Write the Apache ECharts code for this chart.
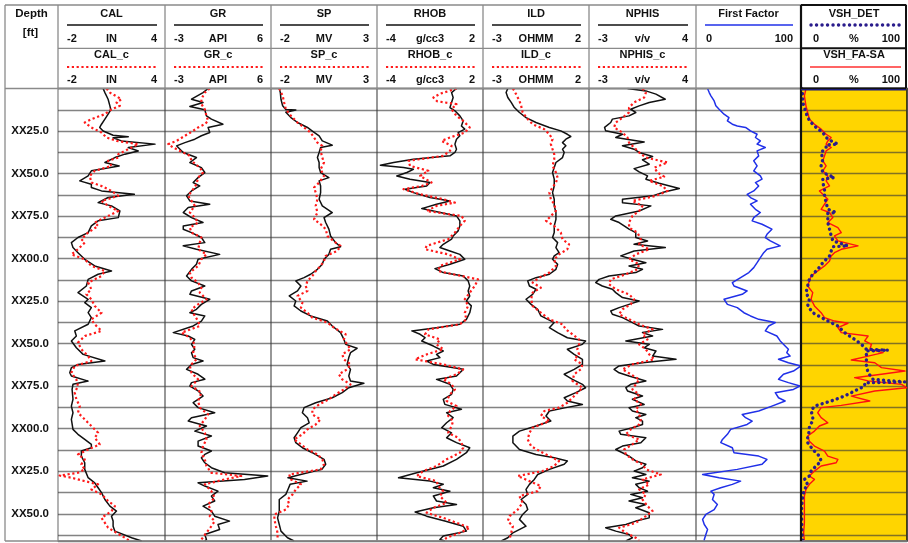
<!DOCTYPE html>
<html>
<head>
<meta charset="utf-8">
<script src="https://cdn.jsdelivr.net/npm/echarts@6/dist/echarts.min.js"></script>
<style>
html,body{margin:0;padding:0;background:#fff;}
#chart{width:908px;height:543px;}
</style>
</head>
<body>
<div id="chart"></div>
<script>
// ---- track headings and scales ----
const topNames    = ['CAL', 'GR', 'SP', 'RHOB', 'ILD', 'NPHIS', 'First Factor', 'VSH_DET'];
const bottomNames = ['CAL_c', 'GR_c', 'SP_c', 'RHOB_c', 'ILD_c', 'NPHIS_c', '', 'VSH_FA-SA'];
const units       = ['IN', 'API', 'MV', 'g/cc3', 'OHMM', 'v/v', '', '%'];
const scaleMin    = [-2, -3, -2, -4, -3, -3, 0, 0];
const scaleMax    = [4, 6, 3, 2, 2, 4, 100, 100];
const depthMin = 0, depthMax = 266, depthStep = 12.5, depthLabelStep = 25;

// ---- log curves, each point is [depth, value] ----
const CAL = [[0,0.53],[2.4,0.63],[6.3,0.81],[10.2,0.91],[12.5,0.96],[15.1,0.81],[18,0.63],[21,0.44],[22.9,0.34],[25,0.53],[27.5,1.09],[28.3,1.94],[29,1.09],[30.8,1.56],[32.7,3.44],[34.7,1.94],[36.7,2.5],[38.6,1.75],[40.6,1.19],[43.5,0.63],[45.5,1.43],[48.4,-0.13],[51.4,-0.31],[54.3,-0.78],[56.3,-0.13],[58.2,-0.13],[60.2,0.44],[62.2,2.28],[64.1,0.81],[67.1,0.25],[69,1.0],[72,1.47],[75.9,1.38],[77.8,0.25],[80.8,-0.13],[84.7,-0.31],[87.6,-0.88],[90.6,-1.25],[93.5,-1.16],[96.5,-0.88],[100.4,-0.5],[104.3,0.06],[107.3,1.0],[109.2,0.25],[112.2,-0.31],[116.1,-0.41],[120,-0.88],[123.9,-0.31],[125.9,-0.5],[128.8,-0.13],[131.8,-0.31],[134.7,-0.13],[138.6,-0.31],[142.5,-1.06],[145.5,-0.97],[148.4,-1.25],[152.4,-0.97],[156.3,-0.59],[160.2,0.63],[162.2,-0.88],[164.1,-1.25],[167.1,-1.34],[169,-1.25],[172,-0.31],[173.9,-1.16],[176.9,-1.21],[182.7,-1.16],[186.7,-1.25],[190.6,-1.16],[194.5,-1.25],[200.4,-1.16],[203.3,-0.88],[206.3,-0.5],[209.2,-0.13],[211.2,-0.13],[213.1,-0.69],[216.1,-0.69],[220,-0.5],[223.9,-0.5],[228.8,-0.31],[231.8,0.06],[234.7,0.25],[237.6,0.44],[241.6,0.63],[245.5,0.91],[248.4,1.28],[251.4,1.0],[254.3,1.09],[257.3,1.09],[260.2,1.19],[264.1,2.13],[266,2.69]];
const CAL_c = [[0,0.72],[2.4,0.91],[6.3,1.56],[8.2,1.28],[10.2,1.47],[12.2,1.0],[15.1,0.63],[18,-0.13],[20,-0.5],[22.9,-0.13],[25.9,0.44],[28.8,0.72],[30.8,1.28],[32.7,2.5],[33.7,2.31],[35.7,1.94],[38.6,1.38],[40.6,1.38],[42.5,0.81],[45.5,1.0],[48.4,0.06],[51.4,-0.22],[55.3,-0.13],[57.3,0.44],[60.2,1.0],[63.1,1.38],[66.1,0.44],[69,0.81],[72,1.38],[75.9,0.63],[78.8,0.06],[80.8,0.25],[84.7,-0.31],[88.6,-0.69],[90.6,-0.5],[94.5,-0.88],[97.5,-1.25],[100.4,-0.5],[104.3,-0.13],[107.3,0.63],[110.2,0.44],[114.1,-0.31],[118,-0.13],[121,-0.41],[123.9,-0.13],[127.8,0.06],[131.8,0.44],[135.7,-0.13],[138.6,0.06],[142.5,0.44],[145.5,-0.5],[149.4,-0.88],[153.3,-0.69],[157.3,-0.31],[160.2,-0.13],[163.1,-1.06],[167.1,-1.25],[171,-0.97],[174.9,-0.88],[178.8,-1.06],[182.7,-0.97],[186.7,-0.78],[190.6,-0.88],[194.5,-0.5],[198.4,-0.13],[202.4,0.25],[205.3,0.06],[209.2,0.34],[212.2,-0.31],[215.1,-0.88],[218,-0.5],[221,-0.69],[223.9,-0.5],[225.9,-0.88],[227.5,-1.91],[228.8,-1.25],[230.8,-0.5],[232.7,0.25],[235.7,-0.13],[238.6,0.44],[242.5,0.81],[245.5,1.19],[248.4,1.0],[252.4,0.44],[255.3,0.63],[258.2,0.81],[261.2,1.28],[264.1,1.75],[266,2.03]];

const GR = [[0,0.66],[2.4,0.23],[6.3,-0.75],[8.2,0.23],[10.6,-0.89],[12.5,0.38],[16.1,0.52],[18,0.94],[21,1.92],[22.9,0.66],[25.9,0.8],[27.8,0.09],[29.8,-0.47],[31.8,-1.31],[33.7,-2.02],[35.7,-1.73],[37.6,-1.45],[40.6,-0.33],[43.5,-0.89],[46.5,0.09],[49.4,0.38],[52.4,-0.19],[55.3,-0.61],[57.3,-0.05],[60.2,-0.75],[63.1,-1.17],[66.1,-0.89],[68,0.8],[70,-1.03],[72.9,-1.45],[75.9,-0.75],[78.8,0.23],[80.8,-1.45],[82.7,-1.45],[84.7,-0.75],[87.6,0.09],[90.6,0.38],[92.5,-1.45],[94.5,-0.33],[97.5,1.64],[100.4,-0.19],[103.3,-0.33],[106.3,-0.75],[110.2,-1.17],[113.1,-0.75],[116.1,0.38],[119,-0.75],[121,-0.89],[123.9,0.8],[126.9,0.09],[129.8,-0.33],[131.8,-0.89],[133.7,0.38],[136.7,0.09],[139.6,-0.61],[143.5,-2.3],[145.5,-1.03],[147.5,-0.47],[150.4,-0.75],[153.3,-0.47],[155.3,-0.75],[158.2,-0.61],[160.2,0.23],[162.2,-0.75],[165.1,-1.17],[168,-0.19],[170.9,0.38],[172.9,-0.75],[174.9,-0.89],[177.8,-0.19],[180.8,0.23],[184.7,-0.61],[187.6,-0.19],[190.6,1.22],[193.5,-0.75],[195.5,-1.03],[198.4,0.52],[201.4,-0.47],[204.3,0.94],[207.3,-0.19],[210.2,-0.19],[213.1,0.94],[215.1,0.38],[217.1,0.09],[220,0.38],[222.9,0.94],[225.9,2.06],[227.8,5.72],[229.8,3.75],[231.8,-0.19],[233.7,0.38],[236.7,1.5],[239.6,0.94],[242.5,1.22],[245.5,0.23],[248.4,0.94],[251.4,1.22],[254.3,2.48],[256.3,1.5],[259.2,1.64],[262.2,0.38],[265.1,0.52],[266,0.38]];
const GR_c = [[0,0.8],[2.4,0.38],[6.3,0.09],[9.2,0.09],[12.2,0.38],[16.1,0.52],[19,0.66],[21,0.38],[22.9,-0.19],[24.9,-0.61],[27.8,-1.31],[30.8,-2.02],[32.7,-2.72],[34.7,-2.3],[36.7,-1.73],[39.6,-0.89],[42.5,-0.75],[46.5,-0.05],[49.4,0.23],[52.4,-0.19],[56.3,-0.33],[59.2,-0.61],[63.1,-1.03],[66.1,-0.75],[69,-0.47],[72.9,-0.89],[75.9,-0.47],[78.8,-0.19],[81.8,-0.89],[84.7,-0.75],[87.6,0.09],[90.6,-0.05],[94.5,-0.19],[97.5,0.52],[100.4,0.09],[104.3,-0.19],[108.2,-0.89],[111.2,-0.75],[114.1,-0.19],[117.1,0.09],[120,-0.05],[123.9,0.52],[126.9,-0.19],[129.8,-0.75],[133.7,-0.47],[136.7,-0.19],[139.6,-0.05],[143.5,-1.59],[146.5,-0.89],[150.4,-0.47],[155.3,-0.61],[159.2,-0.33],[163.1,-0.89],[167.1,-0.75],[171,-0.19],[174.9,-0.75],[178.8,0.09],[183.7,-0.19],[187.6,-0.05],[191.6,0.66],[194.5,0.38],[198.4,-0.05],[202.4,0.38],[206.3,0.52],[210.2,0.23],[214.1,0.09],[218,0.38],[221.9,0.52],[225.9,0.94],[227.8,3.47],[229.8,2.06],[232.7,0.38],[236.7,0.94],[240.6,1.22],[244.5,0.66],[248.4,0.94],[251.4,0.8],[254.3,1.22],[257.3,0.94],[261.2,0.52],[265.1,0.09],[266,-0.05]];

const SP = [[0,-1.61],[2.4,-1.56],[6.3,-1.53],[10.2,-1.45],[12.4,-1.3],[12.6,-0.83],[14,-1.3],[17.1,-1.06],[20,-0.75],[22.9,-0.28],[25,-0.05],[27.8,0.27],[30.8,0.42],[33.3,0.89],[34.7,0.34],[37.6,0.27],[40.6,0.19],[43.5,0.27],[46.5,0.27],[49.4,0.34],[52.4,0.73],[54.3,0.27],[57.3,0.34],[61.2,0.34],[65.1,0.27],[69,0.42],[72.9,0.89],[75.9,0.5],[78.8,0.58],[82.7,0.73],[86.7,0.81],[90.6,1.05],[93,1.28],[94.5,0.81],[97.5,0.73],[100.4,0.5],[103.3,0.42],[106.3,0.19],[109.2,-0.13],[111.2,-0.44],[113.1,-0.83],[116.1,-0.59],[119,-0.75],[121.9,-1.14],[124.9,-0.83],[127.8,-0.91],[130.8,-0.59],[133.7,-0.13],[136.7,0.66],[139.6,0.89],[143.5,1.28],[147.5,1.44],[150.4,1.52],[152.7,2.06],[155.3,1.75],[158.2,1.67],[162.2,1.59],[165.1,1.75],[169,1.67],[171.9,1.75],[173.3,2.38],[175.9,1.67],[178.8,1.36],[181.8,0.89],[184.7,0.11],[187.6,-0.44],[190.6,-0.52],[193.5,-0.28],[196.5,-0.2],[199.4,-0.59],[202.4,-0.75],[205.3,-0.91],[208.2,-0.83],[211.2,-0.52],[214.1,-0.05],[218,0.5],[220.9,0.58],[223.9,0.4],[226.9,-0.6],[228.8,-1.2],[230.8,-0.3],[232.7,-1.1],[235.7,-1.2],[238.6,-1.3],[241.6,-1.61],[244.5,-1.61],[248.4,-1.61],[252.4,-1.69],[256.3,-1.61],[260.2,-1.53],[264.1,-1.22],[266,-0.91]];
const SP_c = [[0,-1.61],[4.3,-1.45],[8.2,-1.38],[12.2,-1.3],[16.1,-1.06],[20,-0.75],[22.9,-0.44],[25.9,-0.13],[28.8,0.03],[31.8,0.19],[33.7,0.42],[36.7,0.34],[40.6,0.42],[43.5,0.5],[47.5,0.34],[51.4,0.5],[55.3,0.27],[58.2,0.03],[61.2,0.11],[65.1,0.19],[69,0.11],[72.9,0.19],[76.9,0.03],[79.8,0.34],[82.7,0.58],[86.7,0.66],[90.6,1.05],[92.5,1.28],[95.5,1.13],[98.4,0.58],[101.4,0.5],[104.3,0.34],[107.3,0.11],[110.2,-0.05],[113.1,-0.28],[116.1,-0.36],[119,-0.28],[121.9,-0.75],[125.9,-0.52],[128.8,-0.59],[131.8,-0.28],[134.7,-0.05],[137.6,0.66],[140.6,0.97],[144.5,1.52],[147.5,1.44],[150.4,1.59],[153.3,1.75],[156.3,1.36],[159.2,1.44],[162.2,1.75],[165.1,1.59],[168,1.2],[171,1.36],[173.9,1.75],[176.9,1.44],[179.8,1.05],[182.7,0.73],[185.7,0.27],[188.6,-0.05],[191.6,-0.05],[194.5,0.34],[197.5,0.11],[200.4,-0.28],[203.3,-0.52],[206.3,-0.91],[209.2,-0.59],[212.2,-0.28],[215.1,0.19],[218,0.42],[220.9,0.5],[223.9,0.34],[226.9,-1.14],[229.8,-1.06],[232.7,-0.59],[235.7,-0.83],[238.6,-0.98],[241.6,-1.22],[244.5,-1.14],[247.5,-1.3],[250.4,-1.84],[253.3,-1.84],[257.3,-1.77],[261.2,-1.69],[265.1,-1.69]];

const RHOB = [[0,0.5],[2.4,0.22],[5.3,0.31],[8.2,0.22],[11.2,0.13],[13.1,0.41],[16.1,0.69],[19,0.88],[22,0.78],[23.9,0.97],[25.9,0.59],[27.8,0.69],[29.8,0.5],[32.7,0.41],[35.7,0.5],[37.6,0.41],[39.6,0.13],[41.6,-1.94],[43.5,-3.06],[45.1,-3.81],[46.5,-2.5],[47.5,-1.94],[49.4,-2.31],[51.4,-2.88],[53.3,-2.13],[55.3,-1.0],[57.3,-1.19],[59.2,-2.41],[61.2,-1.94],[64.1,-1.0],[66.1,0.13],[68,-0.63],[70.6,-1.47],[72,-0.81],[74.9,0.5],[77.8,0.69],[80.8,0.69],[83.7,0.59],[86.7,0.31],[88.6,0.22],[91.6,-0.25],[93.5,-0.44],[95.5,0.13],[97.5,0.69],[100.4,0.97],[103.3,0.13],[105.9,-0.72],[108.2,-0.25],[110.2,0.88],[113.1,1.16],[116.1,1.25],[119,1.16],[122,1.25],[124.9,1.06],[127.8,1.34],[131.8,1.25],[135.7,1.06],[138.6,0.69],[140.6,-0.63],[142.5,-2.03],[144.5,-1.56],[146.5,-1.28],[148.4,-1.47],[151.4,-0.81],[154.3,-0.25],[156.3,-0.63],[158.2,-0.44],[160.2,-1.19],[162.2,-0.81],[165.1,0.88],[167.1,0.69],[169,0.5],[171,-0.63],[173.9,0.13],[176.9,0.31],[179.8,0.22],[182.7,-0.25],[185.7,-0.16],[188.6,0.78],[190.6,-0.06],[193.5,0.31],[196.5,-0.06],[199.4,-0.34],[202.4,0.22],[205.3,-0.06],[208.2,0.5],[211.2,1.25],[214.1,1.06],[218,0.5],[221.9,-0.25],[225.9,-1.75],[228.8,-2.78],[230.8,-1.0],[232.7,-0.25],[234.7,-0.81],[236.7,0.13],[239.6,-0.81],[242.5,-0.63],[244.5,0.5],[246.5,-0.81],[249,-1.84],[251.4,-1.19],[254.3,-0.16],[257.3,0.88],[260.2,1.06],[263.1,-0.25],[265.1,-0.44],[266,-0.16]];
const RHOB_c = [[0,0.5],[3,-0.4],[5.3,-0.81],[7.5,-0.6],[9.2,0.5],[12.2,0.22],[16.1,0.5],[19,0.88],[22.9,1.25],[25.9,0.97],[28.8,0.13],[30.8,-0.34],[33.7,0.22],[36.7,0.13],[39.6,-0.25],[42.5,-2.22],[45.5,-2.13],[48.4,-1.09],[51.4,-1.56],[55.3,-0.91],[57.3,-1.47],[59.2,-2.5],[62.2,-1.56],[65.1,-0.25],[67.1,0.41],[69,-0.63],[72,-1.19],[74.9,0.78],[77.8,0.97],[80.8,0.69],[84.7,0.41],[88.6,0.03],[92.5,-1.19],[94.5,-1.28],[97.5,0.03],[100.4,0.69],[104.3,-0.44],[107.3,-0.53],[109.2,0.31],[112.2,1.72],[116.1,1.53],[120,1.25],[123.9,0.97],[127.8,1.16],[131.8,0.97],[135.7,1.06],[138.6,0.69],[141.6,-1.09],[144.5,-1.28],[147.5,-0.44],[150.4,-0.63],[153.3,-0.25],[156.3,-1.19],[159.2,-1.84],[162.2,-0.25],[165.1,0.88],[168,0.5],[171,-0.25],[173.9,0.22],[176.9,0.41],[179.8,0.13],[183.7,-0.06],[186.7,0.5],[189.6,0.13],[192.5,0.03],[195.5,0.31],[198.4,0.22],[202.4,0.03],[205.3,0.59],[208.2,0.78],[211.2,0.88],[214.1,0.69],[218,-0.06],[221.9,-0.63],[224.9,-1.38],[227.8,-1.75],[230.8,-0.63],[233.7,-0.53],[236.7,-0.25],[239.6,-0.44],[243.5,-0.06],[246.5,-0.81],[249.4,-1.19],[252.4,-0.25],[255.3,0.5],[258.2,1.25],[261.2,0.69],[264.1,-0.06],[266,-0.25]];

const ILD = [[0,-1.83],[2.4,-1.91],[5.3,-1.83],[8.2,-1.67],[11.2,-1.52],[14.1,-1.28],[17.1,-0.97],[20,-0.5],[22.9,0.13],[24.9,0.67],[26.9,0.98],[28.2,1.14],[29.8,0.91],[31.8,0.75],[33.7,0.91],[35.7,0.75],[37.6,0.83],[40.6,0.75],[43.5,0.44],[46.5,0.36],[49.4,0.28],[53.3,0.36],[57.3,0.36],[61.2,0.28],[65.1,0.36],[69,0.36],[72.9,0.44],[76.9,0.44],[80.8,0.36],[84.7,0.36],[87.6,0.28],[90.6,0.52],[93.5,0.44],[96.5,0.59],[98.4,0.36],[100.4,0.28],[103.3,0.52],[106.3,0.44],[109.2,0.13],[111.2,-0.5],[113.1,-0.89],[116.1,-0.81],[118,-0.5],[121,-0.66],[123.9,-0.97],[126.9,-0.73],[129.8,-0.42],[133.7,-0.27],[137.6,0.36],[140.6,0.13],[143.5,0.52],[146.5,0.98],[148.4,1.84],[150.4,1.69],[153.3,0.98],[156.3,1.3],[159.2,1.69],[162.2,1.69],[165.1,1.3],[168,0.83],[171,1.22],[173.9,1.69],[175.9,1.84],[178.8,1.38],[181.8,0.83],[183.7,0.98],[185.7,1.69],[187.6,0.91],[189.6,0.13],[192.5,-0.03],[195.5,0.2],[198.4,-0.5],[201.4,-1.28],[204.3,-1.59],[208.2,-1.59],[212.2,-1.28],[215.1,-0.5],[217.1,0.36],[219,0.98],[220.9,0.83],[223.9,0.13],[226.9,-0.42],[229.8,-0.58],[232.7,-0.81],[235.7,-0.97],[238.6,-0.89],[241.6,-1.2],[244.5,-0.97],[247.5,-0.89],[250.4,-1.13],[253.3,-1.28],[257.3,-0.97],[261.2,-1.59],[264.1,-1.83],[266,-2.14]];
const ILD_c = [[0,-1.59],[3.3,-1.44],[7.3,-1.28],[10.2,-1.2],[14.1,-1.13],[18,-0.89],[21,-0.66],[23.9,-0.11],[26.9,0.13],[29.8,0.28],[32.7,0.2],[35.7,0.28],[38.6,0.36],[41.6,0.36],[45.5,0.28],[49.4,0.44],[52.4,0.52],[55.3,0.44],[58.2,0.28],[61.2,0.13],[65.1,0.2],[68,0.36],[71.9,0.44],[75.9,0.13],[77.8,-0.03],[80.8,0.36],[84.7,0.67],[88.6,0.75],[91.6,1.06],[94.5,0.98],[97.5,0.59],[100.4,0.36],[104.3,0.44],[108.2,0.13],[111.2,-0.34],[114.1,-0.66],[117.1,-0.27],[120,-0.66],[123.9,-0.73],[127.8,-0.66],[131.8,-0.27],[135.7,0.13],[138.6,0.75],[141.6,0.91],[144.5,1.22],[147.5,1.53],[150.4,1.53],[153.3,1.45],[156.3,1.53],[159.2,1.3],[162.2,1.69],[165.1,1.61],[168,1.3],[171.9,1.22],[175.9,1.69],[178.8,1.45],[181.8,1.22],[184.7,0.98],[187.6,0.59],[189.6,-0.11],[192.5,-0.27],[195.5,0.13],[199.4,-0.66],[202.4,-0.81],[206.3,-0.89],[210.2,-0.73],[213.1,-0.34],[216.1,0.13],[218.9,0.59],[221.9,0.36],[224.9,-0.19],[227.8,-1.36],[230.8,-0.81],[233.7,-0.27],[236.7,-0.42],[239.6,-1.28],[243.5,-1.13],[247.5,-1.36],[251.4,-1.75],[254.3,-1.83],[257.3,-1.59],[261.2,-1.67],[265.1,-1.75]];

const NPHIS = [[0,-0.48],[1.4,0.72],[3.3,1.38],[6.3,1.99],[8.2,0.94],[10.2,0.28],[12.2,-0.27],[14.1,0.06],[16.1,-0.38],[18,-1.47],[20,-1.58],[22.9,-1.98],[24.9,-1.91],[26.9,-0.81],[28.8,-1.25],[31.4,0.61],[33.7,-0.81],[35.7,-0.05],[37.6,0.28],[40,1.16],[41.9,0.5],[44.5,0.94],[47.1,-0.05],[49,0.28],[51.4,0.83],[53.3,0.72],[55.7,1.59],[58.8,2.91],[60.8,1.92],[63.1,1.16],[65.1,-0.81],[67.1,-0.81],[69,1.05],[72,0.28],[74.9,-1.25],[76.9,-1.58],[78.8,-1.03],[80.8,-0.7],[82.7,-0.38],[84.7,0.06],[87.6,0.06],[89.6,0.83],[91.6,-0.05],[93.5,1.99],[95.5,-0.05],[98.4,-0.92],[100.4,-0.16],[102.4,0.72],[104.3,-0.38],[106.3,0.5],[108.2,0.06],[110.2,-1.69],[112.2,-2.34],[114.1,-2.56],[116.1,-2.13],[118,-1.47],[120,-1.25],[122.9,-0.81],[124.9,0.28],[126.9,-0.38],[128.8,-1.03],[130.8,-1.58],[132.7,-1.47],[134.7,-0.81],[137.6,-0.16],[139.6,0.28],[141.6,1.81],[143.5,0.5],[145.5,1.16],[148.4,-0.59],[150.4,0.94],[152.4,0.61],[154.3,1.38],[157.3,1.16],[159.2,2.69],[161.2,0.5],[163.1,-1.03],[165.1,-1.36],[167.1,-1.03],[169,-0.38],[171.9,0.72],[173.9,-0.27],[175.9,-0.59],[177.8,-0.48],[180.8,0.5],[182.7,-0.16],[185.7,0.61],[187.6,-0.38],[189.6,-0.16],[191.6,0.72],[193.5,0.06],[195.5,0.5],[197.5,0.5],[199.4,-0.16],[201.4,-1.03],[203.3,-0.92],[205.3,0.72],[208.2,0.39],[210.2,-0.81],[212.2,-1.25],[214.1,-0.81],[216.1,-0.38],[218.9,0.06],[220.9,0.72],[222.9,0.5],[224.9,-0.05],[226.9,0.72],[228.8,-0.16],[230.8,0.94],[232.7,0.06],[234.7,0.28],[236.7,0.83],[238.6,-0.27],[240.6,0.5],[242.5,-0.38],[244.5,0.72],[246.5,0.06],[249.4,0.94],[252.4,0.94],[254.3,0.06],[256.3,-0.59],[258.2,-1.91],[260.2,-1.25],[262.2,-0.38],[264.1,-0.16],[266,-0.59]];
const NPHIS_c = [[0,0.5],[2.4,0.72],[5.3,0.61],[8.2,-0.05],[11.2,-0.38],[14.1,-0.38],[17.1,-0.81],[20,-1.25],[22.9,-1.36],[25.9,-0.81],[28.8,-0.48],[31.8,-0.38],[34.7,-0.05],[37.6,0.28],[40.6,0.72],[43.5,2.14],[44.5,2.25],[46.5,1.27],[49.4,1.48],[51.8,1.92],[54.3,0.94],[57.3,1.81],[60.2,2.14],[63.1,1.38],[66.1,-0.16],[69,0.5],[72,0.28],[74.9,-0.16],[78.8,-0.38],[81.8,-0.38],[84.7,0.17],[88.6,0.39],[91.6,0.28],[94.5,0.94],[97.5,0.06],[100.4,-0.38],[103.3,0.28],[106.3,0.17],[109.2,-0.59],[112.2,-1.58],[115.1,-1.69],[118,-1.25],[121,-0.38],[123.9,-0.05],[126.9,-0.27],[129.8,-0.81],[132.7,-1.03],[135.7,-0.38],[138.6,0.28],[141.6,1.16],[144.5,0.5],[147.5,0.83],[150.4,0.28],[153.3,0.72],[156.3,0.94],[159.2,1.27],[162.2,-0.16],[165.1,-0.81],[168,-0.27],[171,0.28],[173.9,0.06],[176.9,-0.16],[179.8,0.28],[182.7,-0.05],[185.7,0.39],[188.6,0.06],[191.6,0.28],[194.5,0.39],[197.5,0.28],[200.4,-0.27],[203.3,-0.59],[206.3,0.28],[209.2,-0.16],[212.2,-0.7],[215.1,-0.59],[218,-0.16],[221,0.5],[223.9,0.72],[226.9,1.7],[229.8,0.5],[232.7,0.94],[235.7,0.28],[238.6,0.72],[241.6,0.5],[245.5,0.83],[248.4,1.16],[251.4,0.72],[255.3,0.06],[258.2,-1.03],[261.2,-0.59],[264.1,0.06],[266,0.28]];

const FIRST_FACTOR = [[0,11],[2.4,12.6],[4.3,14.2],[7.3,17.3],[10.2,18.9],[12.2,22],[15.1,26.7],[17.1,31.4],[19,29.9],[21,34.6],[22,39.3],[22.9,47.2],[24.9,51.9],[26.9,58.2],[28.8,56.6],[30.8,61.3],[32.7,58.2],[34.7,66],[36.7,58.2],[39.6,59.7],[42.5,55],[45.5,58.2],[48.4,55],[51.4,61.3],[53.3,62.9],[55.3,56.6],[57.3,59.7],[60.2,55],[62.2,48.7],[64.1,51.9],[66.1,58.2],[68,51.9],[71,56.6],[72.9,61.3],[75.9,55],[77.8,53.5],[79.8,62.9],[82.7,72.3],[85.7,67.6],[87.6,66],[89.6,70.8],[92.5,80.2],[94.5,67.6],[96.5,64.5],[99.4,61.3],[102.4,58.2],[105.3,55],[108.2,50.3],[111.2,42.5],[114.1,34.6],[116.1,36.2],[119,48.7],[121,44],[123.9,26.7],[126.9,29.9],[128.8,39.3],[131.8,45.6],[133.7,51.9],[135.7,59.7],[137.6,75.5],[139.6,69.2],[142.5,66],[145.5,77],[148.4,80.2],[151.4,84.9],[153.3,88],[155.3,86.5],[157.3,89.6],[159.2,78.6],[161.2,88],[163.1,100],[166.1,92.8],[168,83.3],[171,78.6],[172.9,88],[174.9,99],[176.9,92.8],[178.8,75.5],[181.8,78.6],[183.7,84.9],[186.7,72.3],[189.6,59.7],[191.6,44],[193.5,47.2],[195.5,53.5],[197.5,48.7],[200.4,33],[203.3,29.9],[206.3,25.2],[208.2,23.6],[211.2,34.6],[214.1,36.2],[216.1,59.7],[218,67.6],[220.9,62.9],[223.9,39.3],[226.9,6.3],[228.8,22],[230.8,42.5],[232.7,34.6],[234.7,23.6],[236.7,14.2],[238.6,17.3],[241.6,15.7],[244.5,20.4],[247.5,17.3],[250.4,9.4],[253.3,6.3],[256.3,7.9],[259.2,11],[262.2,9.4],[265.1,7.9],[266,7.9]];

const VSH_DET = [[0,0.6],[4.3,1.6],[8.2,1.6],[11.2,3.2],[14.1,4.7],[17.1,6.3],[20,9.5],[22.9,14.2],[25.9,20.6],[28.8,23.7],[30.8,28.5],[32.7,34.8],[33.2,23.7],[34.7,23.7],[37.6,19],[41.6,20.6],[45.5,19],[49.4,20.6],[52.4,31.6],[53.3,20.6],[55.3,20.6],[59.2,22.2],[63.1,22.2],[67.1,23.7],[71,25.3],[72.9,33.2],[73.5,25.3],[75.9,25.3],[78.8,25.3],[82.7,26.9],[86.7,28.5],[89.6,30.1],[92.5,44.3],[93,30.1],[95.5,28.5],[98.4,26.9],[102.4,20.6],[106.3,15.8],[109.2,11.1],[112.2,7.9],[116.1,6.3],[120,4.7],[123.9,7.9],[127.8,6.3],[131.8,11.1],[135.7,22.2],[139.6,34.8],[143.5,41.1],[147.5,50.6],[150.4,57],[153.3,61.7],[153.8,82.3],[154.3,61.7],[156.3,61.7],[159.2,61.7],[163.1,61.7],[167.1,63.3],[171,68],[172.5,98.1],[173,60.1],[174.9,60.1],[177.8,50.6],[180.8,41.1],[183.7,28.5],[186.7,12.7],[189.6,9.5],[192.5,11.1],[195.5,11.1],[198.4,7.9],[201.4,7.9],[204.3,6.3],[208.2,6.3],[212.2,11.1],[216.1,17.4],[219,19],[221.9,14.2],[224.9,9.5],[227.8,7.9],[229.8,3.2],[232.7,6.3],[235.7,3.2],[239.6,1.6],[245.5,0.6],[253.3,0.6],[261.2,0.9],[266,1.6]];
const VSH_FA_SA = [[0,4.7],[4.3,3.2],[10.2,4.7],[14.1,6.3],[18,7.9],[21,12.7],[23.9,19],[26.9,23.7],[28.8,28.5],[30.8,25.3],[32.7,23.7],[34.7,28.5],[36.7,23.7],[39.6,22.2],[42.5,20.6],[45.5,23.7],[48.4,20.6],[51.4,25.3],[54.3,23.7],[57.3,26.9],[60.2,17.4],[62.2,20.6],[65.1,25.3],[68,22.2],[71,19],[72.9,26.9],[75.9,30.1],[78.8,25.3],[81.8,34.8],[84.7,38],[86.7,31.6],[89.6,34.8],[92.5,53.8],[94.5,38],[96.5,31.6],[98.4,28.5],[101.4,26.9],[104.3,22.2],[107.3,15.8],[110.2,9.5],[113.1,7.9],[116.1,6.3],[120,11.1],[123.9,9.5],[127.8,12.7],[131.8,19],[134.7,22.2],[136.7,31.6],[138,44.3],[140.6,34.8],[143.5,38],[145.5,63.3],[148.4,60.1],[150.4,66.5],[153.3,64.9],[155.3,77.5],[157.3,63.3],[159.6,47.5],[161.2,69.6],[164.1,75.9],[166.1,98.1],[168,75.9],[170,50.6],[171.9,63.3],[173.9,94.9],[175.9,99.7],[177.8,69.6],[180.8,47.5],[183.7,64.9],[186.3,38],[187.6,19],[190.6,15.8],[193.5,19],[196.5,25.3],[198.4,17.4],[201.4,12.7],[204.3,6.3],[207.3,7.9],[210.2,12.7],[213.1,22.2],[216.1,25.3],[218,34.8],[220,33.2],[221.9,19],[224.9,12.7],[227.8,7.9],[229.8,12.7],[232.7,7.9],[235.7,4.7],[239.6,3.2],[243.5,3.2],[249.4,3.2],[255.3,3.2],[261.2,2.5],[266,3.2]];

// ---- page geometry ----
const trackEdges = [58, 165, 271, 377, 483, 589, 696, 801, 907];
const frameLeft = 5, frameTop = 5, headBottom = 88.5, headMid = 48.3, plotBottom = 541;
const FONT = '"Liberation Sans", Arial, Helvetica, sans-serif';
const GRIDLINE = 'rgba(55,55,55,0.62)';

const chart = echarts.init(document.getElementById('chart'), null, {renderer: 'canvas'});

const grids = [], xAxes = [], yAxes = [], series = [], graphics = [];

function depthLabel(v) {
  if (v <= 0 || Math.abs(v % depthLabelStep) > 1e-6) return '';
  const n = Math.round(v % 100);
  return 'XX' + String(n).padStart(2, '0') + '.0';
}

for (let i = 0; i < 8; i++) {
  const isVsh = i === 7;
  grids.push({
    left: trackEdges[i], top: headBottom,
    width: trackEdges[i + 1] - trackEdges[i], height: plotBottom - headBottom,
    show: true,
    backgroundColor: isVsh ? '#FFD500' : 'transparent',
    borderColor: isVsh ? '#111' : '#8a8a8a', borderWidth: isVsh ? 1.5 : 1.3,
    outerBoundsMode: 'none', containLabel: false
  });
  xAxes.push({type: 'value', gridIndex: i, min: scaleMin[i], max: scaleMax[i], show: false});
  yAxes.push({
    type: 'value', gridIndex: i, inverse: true, min: depthMin, max: depthMax, interval: depthStep,
    axisLine: {show: false}, axisTick: {show: false},
    axisLabel: {
      show: i === 0, margin: 9, formatter: depthLabel, color: '#111',
      fontFamily: FONT, fontWeight: 'bold', fontSize: 11.5
    },
    splitLine: {show: true, lineStyle: {color: GRIDLINE, width: 1.4}}
  });
}

function vertical(curve) { return curve.map(p => [p[1], p[0]]); }
function lineSeries(idx, curve, color, width, dash, cap, z) {
  return {
    type: 'line', xAxisIndex: idx, yAxisIndex: idx, data: vertical(curve),
    showSymbol: false, symbol: 'none', smooth: false, animation: false, silent: true, z: z,
    lineStyle: {color: color, width: width, type: dash || 'solid', cap: cap || 'butt', join: 'round'}
  };
}
const RED_DOTS = [2.2, 2.6];
const mainCurves = [CAL, GR, SP, RHOB, ILD, NPHIS];
const corrCurves = [CAL_c, GR_c, SP_c, RHOB_c, ILD_c, NPHIS_c];
for (let i = 0; i < 6; i++) {
  series.push(lineSeries(i, mainCurves[i], '#111111', 1.5, 'solid', 'butt', 3));
  series.push(lineSeries(i, corrCurves[i], '#ff1a1a', 2.2, RED_DOTS, 'butt', 4));
}
series.push(lineSeries(6, FIRST_FACTOR, '#2030e8', 1.5, 'solid', 'butt', 3));
series.push(lineSeries(7, VSH_FA_SA, '#ff1010', 1.4, 'solid', 'butt', 3));
series.push(lineSeries(7, VSH_DET, '#2a1c8c', 3.4, [0.1, 5.2], 'round', 4));

// ---- header and frame drawing ----
function gLine(x1, y1, x2, y2, stroke, w, dash, cap) {
  graphics.push({type: 'line', silent: true, z: 20,
    shape: {x1: x1, y1: y1, x2: x2, y2: y2},
    style: {stroke: stroke, lineWidth: w, lineDash: dash || null, lineCap: cap || 'butt'}});
}
function gText(x, y, txt, align, size) {
  graphics.push({type: 'text', silent: true, z: 21, x: x, y: y,
    style: {text: txt, fill: '#111', font: 'bold ' + (size || 11) + 'px ' + FONT,
      textAlign: align, textVerticalAlign: 'middle', align: align, verticalAlign: 'middle'}});
}

// outer frame and header rules
const FRAME = '#8a8a8a';
gLine(frameLeft, frameTop, trackEdges[8], frameTop, FRAME, 1.3);
gLine(frameLeft, frameTop, frameLeft, plotBottom, FRAME, 1.3);
gLine(frameLeft, plotBottom, trackEdges[8], plotBottom, FRAME, 1.3);
gLine(frameLeft, headBottom, trackEdges[8], headBottom, FRAME, 1.5);
gLine(trackEdges[0], headMid, trackEdges[7], headMid, FRAME, 1.3);
for (let i = 0; i < 8; i++) gLine(trackEdges[i], frameTop, trackEdges[i], headBottom, FRAME, 1.3);

// depth column title
gText(31.5, 14, 'Depth', 'center', 11.5);
gText(30.5, 33, '[ft]', 'center', 11.5);

const rowName = [14, 55], rowRule = [25, 67], rowScale = [39, 80];
for (let i = 0; i < 8; i++) {
  const L = trackEdges[i], R = trackEdges[i + 1], C = (L + R) / 2;
  const names = [topNames[i], bottomNames[i]];
  for (let r = 0; r < 2; r++) {
    if (!names[r]) continue;
    gText(C, rowName[r], names[r], 'center', 11);
    if (i < 6) {
      if (r === 0) gLine(L + 9, rowRule[r], R - 8, rowRule[r], '#111', 1.5);
      else gLine(L + 9, rowRule[r], R - 8, rowRule[r], '#ff1a1a', 2.2, RED_DOTS);
    } else if (i === 6) {
      gLine(L + 9, rowRule[r], R - 8, rowRule[r], '#2030e8', 1.5);
    } else {
      if (r === 0) gLine(L + 10, rowRule[r], R - 6, rowRule[r], '#2a1c8c', 3.4, [0.1, 5.4], 'round');
      else gLine(L + 9, rowRule[r], R - 6, rowRule[r], '#ff3030', 1.5);
    }
    const padL = i === 7 ? 12 : (i === 6 ? 10 : 9);
    const padR = i === 7 ? 7 : 8;
    gText(L + padL, rowScale[r], String(scaleMin[i]), 'left', 11);
    if (units[i]) gText(C, rowScale[r], units[i], 'center', 11);
    gText(R - padR, rowScale[r], String(scaleMax[i]), 'right', 11);
  }
}

// heavy box around the shale-volume track
const VL = trackEdges[7], VR = trackEdges[8] - 1;
gLine(VL, frameTop, VL, plotBottom, '#111', 2.2);
gLine(VR, frameTop, VR, headBottom, '#111', 2);
gLine(VL, frameTop, VR, frameTop, '#111', 2);
gLine(VL, headMid, VR, headMid, '#111', 2);
gLine(VL, headBottom, VR, headBottom, '#111', 2);
gLine(VL, headBottom + 1.2, VR, headBottom + 1.2, '#1c1c7a', 1.5);

chart.setOption({
  backgroundColor: '#ffffff',
  animation: false,
  grid: grids,
  xAxis: xAxes,
  yAxis: yAxes,
  series: series,
  graphic: {elements: graphics}
});
</script>
</body>
</html>
